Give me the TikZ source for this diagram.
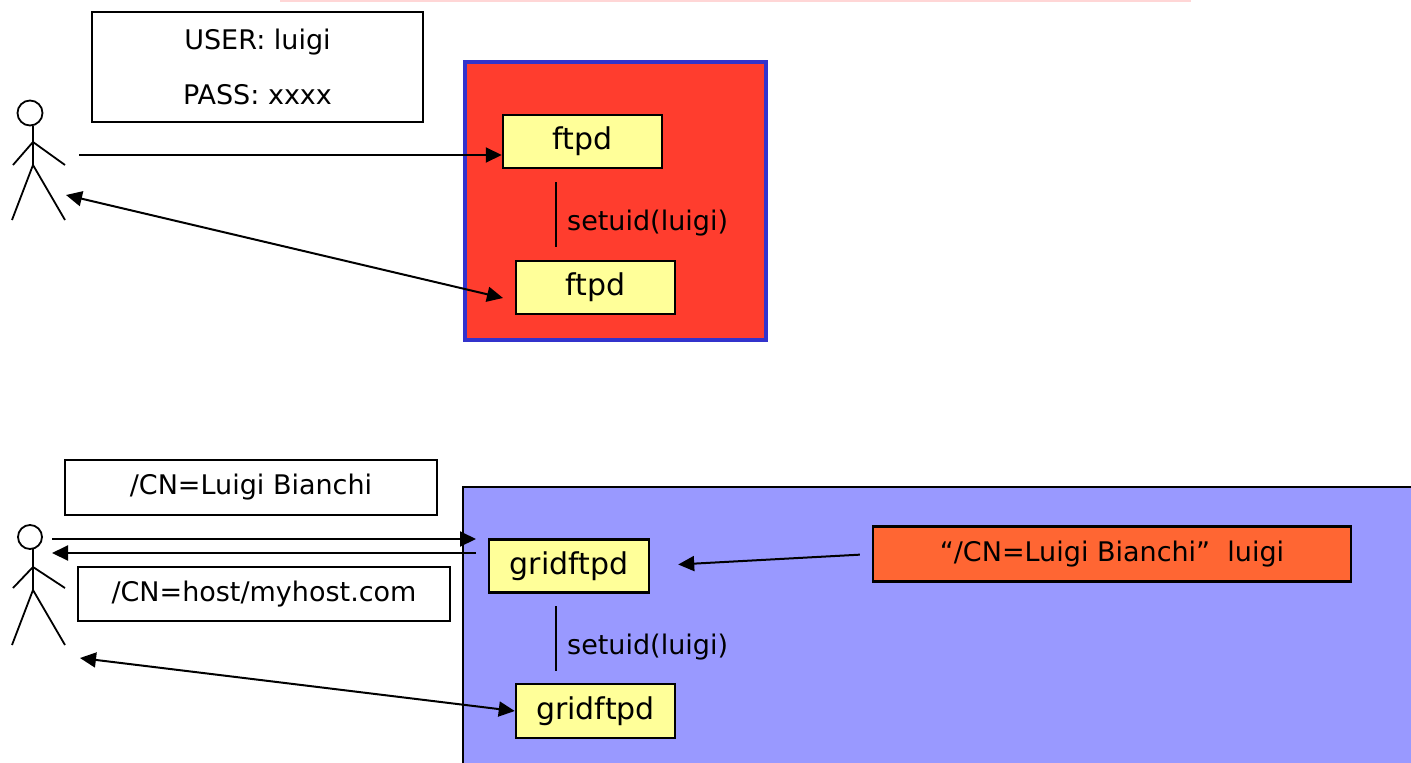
\documentclass[tikz,border=0pt]{standalone}
\usepackage{fontspec}
\setmainfont{DejaVu Sans}
\usetikzlibrary{arrows.meta}
\definecolor{redfill}{HTML}{FF3D2E}
\definecolor{blueborder}{HTML}{3333CC}
\definecolor{lavender}{HTML}{9999FF}
\definecolor{orangefill}{HTML}{FF6633}
\definecolor{yellowfill}{HTML}{FFFF99}
\definecolor{pinkline}{HTML}{FFD6D6}
\tikzset{
  txt/.style={font=\fontsize{27}{32}\selectfont},
  bigtxt/.style={font=\fontsize{30}{34}\selectfont},
  labelbox/.style={draw=black, line width=1.8pt, fill=white, inner sep=0pt, txt},
  procbox/.style={draw=black, line width=2.5pt, fill=yellowfill, inner sep=0pt, bigtxt},
  mapbox/.style={draw=black, line width=2.2pt, fill=orangefill, inner sep=0pt, txt},
  tip/.tip={Triangle[length=16pt,width=15pt]},
  arr/.style={line width=2pt, -tip},
  darr/.style={line width=2pt, tip-tip},
  stick/.style={line width=1.8pt},
  vline/.style={line width=2pt}
}
\begin{document}
\begin{tikzpicture}[x=1pt,y=-1pt]
\useasboundingbox (0,0) rectangle (1411,763);
\begin{scope}
\clip (0,0) rectangle (1411,763);
% faint pink line at the top
\draw[pinkline, line width=2pt] (280,0.5) -- (1191,0.5);

% ===== top scenario =====
\node[labelbox, minimum width=331pt, minimum height=110pt, align=center,
      font=\fontsize{27}{55}\selectfont] (cred) at (257.5,67) {USER: luigi\\PASS: xxxx};

\draw[blueborder, line width=4.5pt, fill=redfill] (465,62) rectangle (766,340);
\node[procbox, minimum width=159pt, minimum height=53pt] (ftpdA) at (582.5,141.5) {ftpd};
\node[procbox, minimum width=159pt, minimum height=53pt] (ftpdB) at (595.5,287.5) {ftpd};
\coordinate (vA1) at (556,182);
\coordinate (vA2) at (556,247);
\draw[vline] (vA1) -- (vA2);
\node[txt, anchor=west, inner sep=0pt] (setA) at (567,223) {setuid(luigi)};

% stick figure 1
\draw[stick] (30,113) circle (12.5);
\draw[stick] (33,125.5) -- (33,165);
\draw[stick] (13,165) -- (33,142) -- (65,165);
\draw[stick] (12,220) -- (33,165) -- (65,220);
\coordinate (uAout) at (79,155);
\coordinate (uAin) at (66,195);
\coordinate (fBin) at (503,298);
\draw[arr] (uAout) -- (uAout -| ftpdA.west);
\draw[darr] (uAin) -- (fBin);

% ===== bottom scenario =====
\draw[black, line width=1.8pt, fill=lavender] (463,487) rectangle (1420,775);
\node[labelbox, minimum width=372pt, minimum height=55pt] (cnUser) at (251,487.5) {/CN=Luigi Bianchi};
\node[labelbox, minimum width=372pt, minimum height=54pt] (cnHost) at (264,594) {/CN=host/myhost.com};
\node[procbox, minimum width=160pt, minimum height=53pt] (gridA) at (569,566) {gridftpd};
\node[procbox, minimum width=159pt, minimum height=54pt] (gridB) at (595.5,711) {gridftpd};
\node[mapbox, minimum width=478pt, minimum height=55pt] (gridmap) at (1112,554) {\char"201C/CN=Luigi Bianchi\char"201D\ \ luigi};
\coordinate (vB1) at (556,606);
\coordinate (vB2) at (556,671);
\draw[vline] (vB1) -- (vB2);
\node[txt, anchor=west, inner sep=0pt] (setB) at (567,647) {setuid(luigi)};

% stick figure 2
\draw[stick] (30,537) circle (12);
\draw[stick] (33,549) -- (33,590);
\draw[stick] (13,588) -- (33,567) -- (65,588);
\draw[stick] (12,645) -- (33,590) -- (65,645);
\coordinate (uBout) at (52,539);
\coordinate (uBret) at (52,553);
\coordinate (gAin) at (476,539);
\coordinate (gAout) at (476,553);
\coordinate (uBin) at (80,658);
\draw[arr] (uBout) -- (gAin);
\draw[arr] (gAout) -- (uBret);
\draw[darr] (uBin) -- (gridB.west);
\draw[arr, shorten <=12pt, shorten >=28pt] (gridmap.west) -- (gridA.east);
\end{scope}
\end{tikzpicture}
\end{document}
